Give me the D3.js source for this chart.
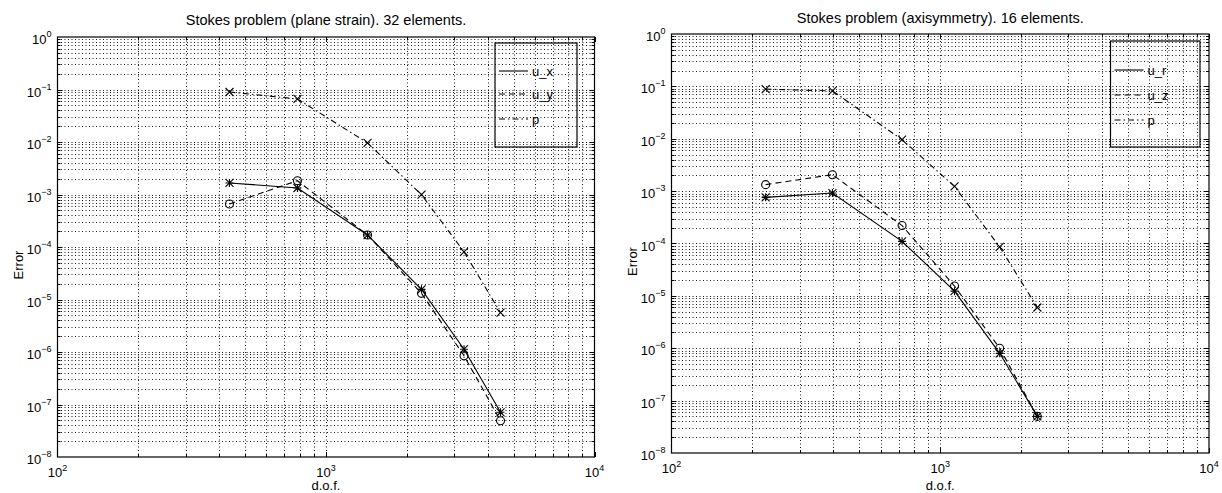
<!DOCTYPE html>
<html>
<head>
<meta charset="utf-8">
<script src="https://cdn.jsdelivr.net/npm/d3@7"></script>
<style>
  body { margin: 0; background: #fff; }
  text { font-family: "Liberation Sans", Arial, Helvetica, sans-serif; fill: #000; }
</style>
</head>
<body>
<svg width="1222" height="493"></svg>
<script>
// left panel: plane strain, 32 elements
const dofLeft = [437, 783, 1428, 2268, 3266, 4467];
const uxLeft = [1.66e-3, 1.33e-3, 1.69e-4, 1.56e-5, 1.13e-6, 7.1e-8];
const uyLeft = [6.6e-4, 1.83e-3, 1.69e-4, 1.31e-5, 8.5e-7, 4.9e-8];
const pLeft = [0.0896, 0.066, 9.6e-3, 9.9e-4, 8.1e-5, 5.6e-6];

// right panel: axisymmetry, 16 elements
const dofRight = [224, 397, 721, 1130, 1664, 2298];
const urRight = [7.6e-4, 9.2e-4, 1.1e-4, 1.23e-5, 8.0e-7, 5.0e-8];
const uzRight = [1.33e-3, 2.06e-3, 2.2e-4, 1.54e-5, 1.0e-6, 5.0e-8];
const pRight = [0.0885, 0.082, 9.6e-3, 1.23e-3, 8.6e-5, 6.0e-6];

const xTickExps = [2, 3, 4];
const yTickExps = [0, -1, -2, -3, -4, -5, -6, -7, -8];

const svg = d3.select('svg');

const styles = {
  solid: null,
  dashed: '6,4',
  dashdot: '6,3,1.5,3',
};

const drawPanel = (cfg) => {
  const {x0, x1, y0, y1} = cfg;
  const x = d3.scaleLog().domain([1e2, 1e4]).range([x0, x1]);
  const y = d3.scaleLog().domain([1e-8, 1]).range([y1, y0]);
  const g = svg.append('g');

  // grid (dotted, every minor step)
  const xg = [];
  for (let e = 2; e < 4; e++) for (let k = 1; k <= 9; k++) if (!(e === 2 && k === 1)) xg.push(k * 10 ** e);
  const yg = [];
  for (let e = -8; e < 0; e++) for (let k = 1; k <= 9; k++) if (!(e === -8 && k === 1)) yg.push(k * 10 ** e);

  g.append('g')
    .selectAll('line')
    .data(xg)
    .enter()
    .append('line')
    .attr('x1', (d) => Math.round(x(d)) + 0.5)
    .attr('x2', (d) => Math.round(x(d)) + 0.5)
    .attr('y1', y0)
    .attr('y2', y1)
    .attr('stroke', '#000')
    .attr('stroke-width', 0.9)
    .attr('stroke-dasharray', '1,2.5');

  g.append('g')
    .selectAll('line')
    .data(yg)
    .enter()
    .append('line')
    .attr('y1', (d) => Math.round(y(d)) + 0.5)
    .attr('y2', (d) => Math.round(y(d)) + 0.5)
    .attr('x1', x0)
    .attr('x2', x1)
    .attr('stroke', '#000')
    .attr('stroke-width', 0.9)
    .attr('stroke-dasharray', '1,2.5');

  // tick marks on all four sides
  const ticks = g.append('g').attr('stroke', '#000').attr('stroke-width', 1);
  xg.concat([1e4]).forEach((v) => {
    const major = Math.abs(Math.log10(v) - Math.round(Math.log10(v))) < 1e-9;
    const len = major ? 5 : 3;
    const px = Math.round(x(v)) + 0.5;
    ticks.append('line').attr('x1', px).attr('x2', px).attr('y1', y1).attr('y2', y1 - len);
    ticks.append('line').attr('x1', px).attr('x2', px).attr('y1', y0).attr('y2', y0 + len);
  });
  yg.forEach((v) => {
    const major = Math.abs(Math.log10(v) - Math.round(Math.log10(v))) < 1e-9;
    const len = major ? 5 : 3;
    const py = Math.round(y(v)) + 0.5;
    ticks.append('line').attr('y1', py).attr('y2', py).attr('x1', x0).attr('x2', x0 + len);
    ticks.append('line').attr('y1', py).attr('y2', py).attr('x1', x1).attr('x2', x1 - len);
  });

  // axes box
  g.append('rect')
    .attr('x', x0)
    .attr('y', y0)
    .attr('width', x1 - x0)
    .attr('height', y1 - y0)
    .attr('fill', 'none')
    .attr('stroke', '#000')
    .attr('stroke-width', 1.2);

  // tick labels
  const xl = g.append('g')
    .selectAll('text')
    .data(xTickExps)
    .enter()
    .append('text')
    .attr('x', (d) => x(10 ** d))
    .attr('y', y1 + 20)
    .attr('text-anchor', 'middle')
    .attr('font-size', 13);
  xl.append('tspan').text('10');
  xl.append('tspan').attr('dy', -6).attr('font-size', 9).text((d) => d);

  const yl = g.append('g')
    .selectAll('text')
    .data(yTickExps)
    .enter()
    .append('text')
    .attr('x', x0 - 6)
    .attr('y', (d) => y(10 ** d) + 7)
    .attr('text-anchor', 'end')
    .attr('font-size', 13);
  yl.append('tspan').text('10');
  yl.append('tspan').attr('dy', -7).attr('font-size', 9).text((d) => (d < 0 ? '\u2212' + -d : d));

  // titles and axis labels
  g.append('text')
    .attr('x', (x0 + x1) / 2)
    .attr('y', cfg.titleY)
    .attr('text-anchor', 'middle')
    .attr('font-size', 14.5)
    .text(cfg.title);
  g.append('text')
    .attr('x', (x0 + x1) / 2)
    .attr('y', 490)
    .attr('text-anchor', 'middle')
    .attr('font-size', 13)
    .text('d.o.f.');
  g.append('text')
    .attr('transform', `translate(${x0 - 35},${(y0 + y1) / 2 + 18}) rotate(-90)`)
    .attr('text-anchor', 'middle')
    .attr('font-size', 13)
    .text('Error');

  // series
  const line = d3.line().x((d) => x(d[0])).y((d) => y(d[1]));
  cfg.series.forEach((s) => {
    const pts = cfg.dof.map((d, i) => [d, s.values[i]]);
    g.append('path')
      .attr('d', line(pts))
      .attr('fill', 'none')
      .attr('stroke', '#000')
      .attr('stroke-width', 1.1)
      .attr('stroke-dasharray', styles[s.style]);

    const m = g.append('g').attr('stroke', '#000').attr('stroke-width', 1.1).attr('fill', 'none');
    pts.forEach(([a, b]) => {
      const px = x(a);
      const py = y(b);
      const r = 4;
      if (s.marker === 'o') {
        m.append('circle').attr('cx', px).attr('cy', py).attr('r', r);
      } else {
        m.append('path').attr('d', `M${px - r},${py - r}L${px + r},${py + r}M${px - r},${py + r}L${px + r},${py - r}`);
        if (s.marker === '*') {
          m.append('path').attr('d', `M${px - r},${py}L${px + r},${py}M${px},${py - r}L${px},${py + r}`);
        }
      }
    });
  });

  // legend
  const lg = g.append('g');
  const {lx0, lx1, ly0, ly1} = cfg.legend;
  lg.append('rect')
    .attr('x', lx0)
    .attr('y', ly0)
    .attr('width', lx1 - lx0)
    .attr('height', ly1 - ly0)
    .attr('fill', 'none')
    .attr('stroke', '#000')
    .attr('stroke-width', 1.2);
  cfg.series.forEach((s, i) => {
    const ly = cfg.legend.rows[i];
    lg.append('line')
      .attr('x1', lx0 + 4)
      .attr('x2', lx0 + 33)
      .attr('y1', ly)
      .attr('y2', ly)
      .attr('stroke', '#000')
      .attr('stroke-width', 1.1)
      .attr('stroke-dasharray', styles[s.style]);
    lg.append('text')
      .attr('x', lx0 + 37)
      .attr('y', ly + 5)
      .attr('font-size', 13)
      .text(s.name);
  });
};

drawPanel({
  x0: 57.5, x1: 594.5, y0: 37, y1: 457,
  titleY: 25,
  title: 'Stokes problem (plane strain). 32 elements.',
  dof: dofLeft,
  series: [
    {name: 'u_x', values: uxLeft, style: 'solid', marker: '*'},
    {name: 'u_y', values: uyLeft, style: 'dashed', marker: 'o'},
    {name: 'p', values: pLeft, style: 'dashdot', marker: 'x'},
  ],
  legend: {lx0: 495, lx1: 577, ly0: 43, ly1: 147, rows: [71, 94, 119]},
});

drawPanel({
  x0: 671.5, x1: 1209, y0: 34, y1: 453,
  titleY: 23,
  title: 'Stokes problem (axisymmetry). 16 elements.',
  dof: dofRight,
  series: [
    {name: 'u_r', values: urRight, style: 'solid', marker: '*'},
    {name: 'u_z', values: uzRight, style: 'dashed', marker: 'o'},
    {name: 'p', values: pRight, style: 'dashdot', marker: 'x'},
  ],
  legend: {lx0: 1110.5, lx1: 1200, ly0: 41, ly1: 147, rows: [70, 95, 120]},
});
</script>
</body>
</html>
